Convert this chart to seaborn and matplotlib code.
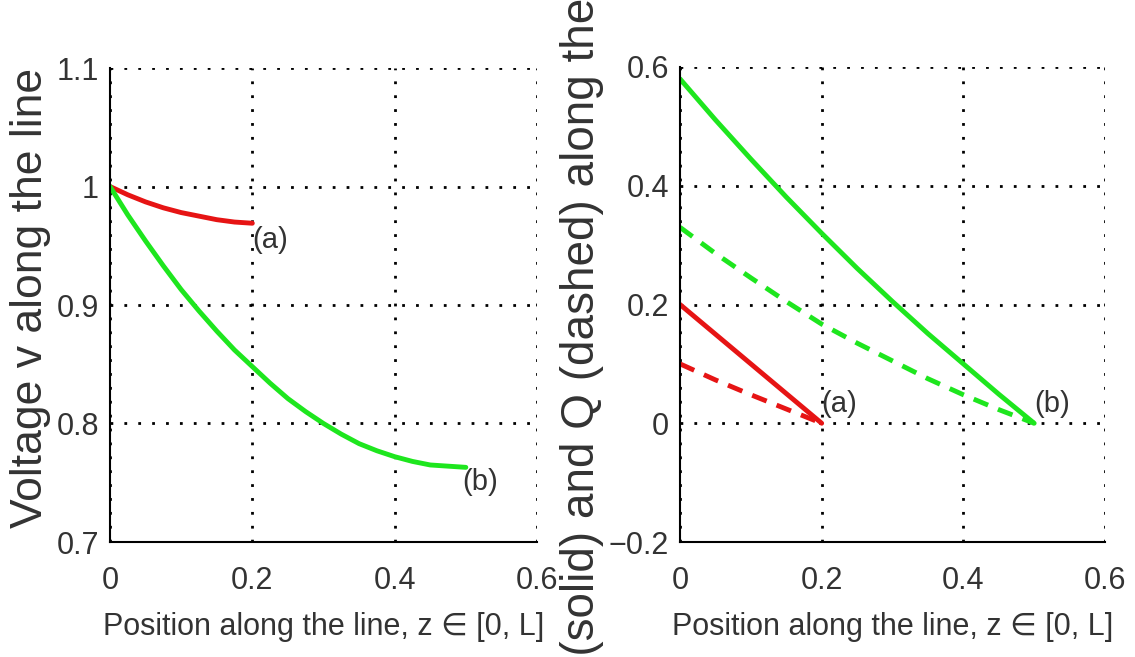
import numpy as np
import pandas as pd
import matplotlib
matplotlib.use("Agg")
import matplotlib.pyplot as plt
import seaborn as sns

# voltage along the line, case (a) and (b)
z_a = [0.0, 0.025, 0.05, 0.075, 0.1, 0.125, 0.15, 0.175, 0.2]
v_a = [1.0, 0.993, 0.987, 0.982, 0.978, 0.975, 0.972, 0.970, 0.969]
z_b = [0.0, 0.025, 0.05, 0.075, 0.1, 0.125, 0.15, 0.175, 0.2, 0.225, 0.25,
       0.275, 0.3, 0.325, 0.35, 0.375, 0.4, 0.425, 0.45, 0.475, 0.5]
v_b = [1.0, 0.976, 0.954, 0.933, 0.913, 0.895, 0.878, 0.862, 0.848, 0.834, 0.821,
       0.810, 0.800, 0.791, 0.783, 0.777, 0.772, 0.768, 0.765, 0.764, 0.763]

# P (solid) and Q (dashed) along the line
z_pq_a = [0.0, 0.05, 0.1, 0.15, 0.2]
p_a = [0.2, 0.15, 0.1, 0.05, 0.0]
q_a = [0.1, 0.073, 0.048, 0.024, 0.0]
z_pq_b = [0.0, 0.05, 0.1, 0.15, 0.2, 0.25, 0.3, 0.35, 0.4, 0.45, 0.5]
p_b = [0.58, 0.511, 0.445, 0.381, 0.32, 0.261, 0.205, 0.151, 0.1, 0.049, 0.0]
q_b = [0.33, 0.286, 0.245, 0.205, 0.167, 0.135, 0.105, 0.075, 0.048, 0.023, 0.0]

x_ticks = [0, 0.2, 0.4, 0.6]
x_ticklabels = ["0", "0.2", "0.4", "0.6"]
v_ticks = [0.7, 0.8, 0.9, 1.0, 1.1]
v_ticklabels = ["0.7", "0.8", "0.9", "1", "1.1"]
pq_ticks = [-0.2, 0.0, 0.2, 0.4, 0.6]
pq_ticklabels = ["\u22120.2", "0", "0.2", "0.4", "0.6"]

RED = "#e61414"
GREEN = "#1ee61e"
TXT = "#333333"

sns.set_style("white")
plt.rcParams["font.family"] = ["Liberation Sans", "DejaVu Sans"]
plt.rcParams["text.color"] = TXT

W, H = 1135, 657
fig = plt.figure(figsize=(W / 100, H / 100), dpi=100)
ax1 = fig.add_axes([110 / W, (H - 542) / H, 427 / W, 474 / H])
ax2 = fig.add_axes([680 / W, (H - 542) / H, 425 / W, 475 / H])

lw = 3.5
dash = (0, (3.2, 2.2))

sns.lineplot(x=z_a, y=v_a, ax=ax1, color=RED, lw=lw, sort=False, estimator=None)
sns.lineplot(x=z_b, y=v_b, ax=ax1, color=GREEN, lw=lw, sort=False, estimator=None)

sns.lineplot(x=z_pq_b, y=p_b, ax=ax2, color=GREEN, lw=lw, sort=False, estimator=None)
sns.lineplot(x=z_pq_b, y=q_b, ax=ax2, color=GREEN, lw=lw, linestyle=dash, sort=False, estimator=None)
sns.lineplot(x=z_pq_a, y=p_a, ax=ax2, color=RED, lw=lw, sort=False, estimator=None)
sns.lineplot(x=z_pq_a, y=q_a, ax=ax2, color=RED, lw=lw, linestyle=dash, sort=False, estimator=None)

def style_axes(ax, yticks, yticklabels):
    ax.set_xlim(0, 0.6)
    ax.set_ylim(yticks[0], yticks[-1])
    ax.set_xticks(x_ticks)
    ax.set_xticklabels(x_ticklabels)
    ax.set_yticks(yticks)
    ax.set_yticklabels(yticklabels)
    ax.tick_params(axis="both", length=0, labelsize=22, colors=TXT)
    ax.tick_params(axis="x", pad=17)
    ax.tick_params(axis="y", pad=8)
    ax.grid(True, color="black", linestyle=(0, (1, 4)), linewidth=2)
    sns.despine(ax=ax)
    for s in ["left", "bottom"]:
        ax.spines[s].set_color("black")
        ax.spines[s].set_linewidth(1.5)
    ax.set_xlabel("Position along the line, z \u2208 [0, L]", fontsize=22, color=TXT)
    ax.xaxis.set_label_coords(0.5, -0.148)

style_axes(ax1, v_ticks, v_ticklabels)
style_axes(ax2, pq_ticks, pq_ticklabels)

ax1.set_ylabel("Voltage v along the line", fontsize=32, color=TXT, va="center")
ax1.yaxis.set_label_coords(-0.187, 0.515)
# the right label is longer than the figure is tall, so its ends get cut off
ax2.set_ylabel("P (solid) and Q (dashed) along the line", fontsize=33,
               color=TXT, va="center")
ax2.yaxis.set_label_coords(-0.23, 0.497)

ann = dict(fontsize=21, color=TXT, ha="left", va="center")
ax1.text(0.2, 0.955, "(a)", **ann)
ax1.text(0.495, 0.751, "(b)", **ann)
ax2.text(0.2, 0.032, "(a)", **ann)
ax2.text(0.5, 0.032, "(b)", **ann)

fig.savefig("out.png", dpi=100)
